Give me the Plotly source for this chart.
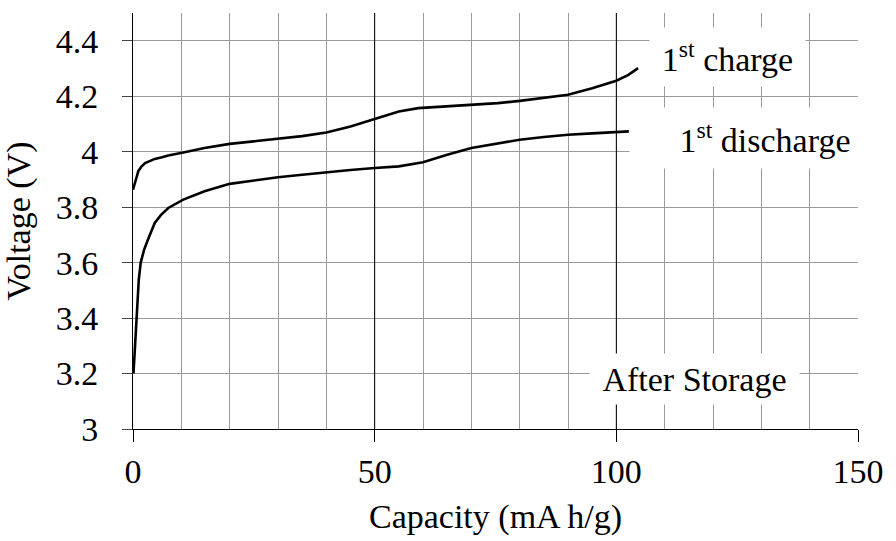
import plotly.graph_objects as go

# ---- data ----
charge_x = [0, 0.3, 0.7, 1.1, 1.7, 2.5, 3.5, 4.5, 6, 7.3, 10.4, 14.8, 20, 25, 30, 35,
            40, 45, 50, 55, 59, 65, 70, 75.5, 80, 85, 90, 95, 100, 102.5, 104.5]
charge_v = [3.863, 3.885, 3.905, 3.930, 3.945, 3.959, 3.967, 3.974, 3.980, 3.986, 3.997,
            4.013, 4.028, 4.037, 4.046, 4.056, 4.069, 4.091, 4.118, 4.145, 4.157, 4.163,
            4.169, 4.175, 4.183, 4.193, 4.205, 4.229, 4.256, 4.277, 4.301]

discharge_x = [0.1, 0.4, 0.6, 0.9, 1.2, 1.6, 2.3, 3.1, 4.5, 5.8, 7.3, 10.4, 14.8, 20, 25,
               30, 35, 40, 45, 50, 55, 60, 65, 70, 75.5, 80, 85, 90, 95, 100, 102.6]
discharge_v = [3.20, 3.288, 3.372, 3.456, 3.54, 3.60, 3.647, 3.683, 3.743, 3.772, 3.797,
               3.827, 3.857, 3.884, 3.897, 3.908, 3.917, 3.926, 3.934, 3.941, 3.947,
               3.962, 3.989, 4.013, 4.031, 4.043, 4.053, 4.061, 4.066, 4.069, 4.073]

x_ticks = [0, 50, 100, 150]
dark_grid = [50, 100]
y_range = [3, 4.5]

labels = ["1<sup>st</sup> charge", "1<sup>st</sup> discharge", "After Storage"]
label_x = [123.1, 130.7, 116.2]
label_y = [4.342, 4.050, 3.180]
label_w = [155, 270, 209]
label_h = [58, 60, 50]

FONT = "Liberation Serif"
GRID = "#9a9a9a"

fig = go.Figure()

# darker gridlines at 50 and 100 (drawn under the curves)
gx, gy = [], []
for g in dark_grid:
    gx += [g, g, None]
    gy += [y_range[0], y_range[1], None]
fig.add_trace(go.Scatter(x=gx, y=gy, mode="lines", line=dict(color="black", width=1),
                         showlegend=False))

for xs, ys in [(charge_x, charge_v), (discharge_x, discharge_v)]:
    fig.add_trace(go.Scatter(x=xs, y=ys, mode="lines",
                             line=dict(color="black", width=2.6), showlegend=False))

for t, ax, ay, w, h in zip(labels, label_x, label_y, label_w, label_h):
    fig.add_annotation(x=ax, y=ay, text=t, showarrow=False, bgcolor="white",
                       width=w, height=h, borderpad=0,
                       font=dict(family=FONT, size=34, color="black"))

fig.update_layout(
    width=896, height=541,
    margin=dict(l=133, r=34, t=13, b=111),
    plot_bgcolor="white",
    font=dict(family=FONT, color="black"),
    xaxis=dict(
        range=[0, 150], tickvals=x_ticks, ticks="outside", ticklen=12, tickcolor="black",
        showline=True, linecolor="black", zeroline=False,
        showgrid=True, gridcolor=GRID,
        minor=dict(dtick=10, showgrid=True, gridcolor=GRID),
        tickfont=dict(family=FONT, size=34, color="black"),
        title=dict(text="Capacity (mA h/g)", font=dict(family=FONT, size=34, color="black")),
    ),
    yaxis=dict(
        range=y_range, dtick=0.2, ticks="outside", ticklen=10, tickcolor="#444",
        showline=True, linecolor="black", zeroline=False,
        showgrid=True, gridcolor=GRID,
        tickfont=dict(family=FONT, size=34, color="black"), ticksuffix="\u00a0\u00a0",
        title=dict(text="Voltage (V)", font=dict(family=FONT, size=34, color="black")),
    ),
)

fig.write_html("out.html")
